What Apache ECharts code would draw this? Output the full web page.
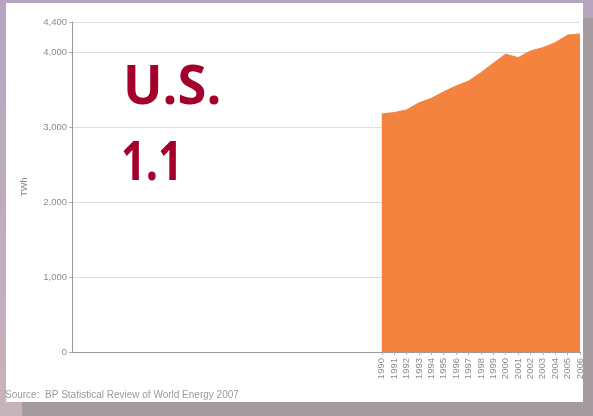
<!DOCTYPE html>
<html>
<head>
<meta charset="utf-8">
<script src="https://cdn.jsdelivr.net/npm/echarts@6/dist/echarts.min.js"></script>
<style>
  html, body { margin: 0; padding: 0; }
  #chart { width: 593px; height: 416px; }
</style>
</head>
<body>
<div id="chart"></div>
<script>
// Category axis: one slot per year, 1965 to 2006; only the 1990+ slots are labelled
const years = Array.from({ length: 42 }, (_, i) => String(1965 + i));
const labelFrom = '1990';

// U.S. electricity generation, TWh, 1990-2006
const genYears = ['1990','1991','1992','1993','1994','1995','1996','1997','1998',
                  '1999','2000','2001','2002','2003','2004','2005','2006'];
const generation = [3175, 3192, 3228, 3322, 3382, 3470, 3548, 3612, 3724,
                    3850, 3972, 3925, 4013, 4058, 4125, 4226, 4240];

// Y-axis ticks
const yMax = 4400;
const yStep = 1000;

const title1 = 'U.S.';
const title2 = '1.1';
const unitLabel = 'TWh';
const sourceNote = 'Source:  BP Statistical Review of World Energy 2007';

const seriesData = years.map(y => {
  const k = genYears.indexOf(y);
  return k < 0 ? null : generation[k];
});
const firstLabelled = years.indexOf(labelFrom);
const showTick = idx => idx >= firstLabelled;

const titleFont = 'bold 54px "Open Sans", sans-serif';
const titleColor = '#a3002b';

const chart = echarts.init(document.getElementById('chart'), null, { renderer: 'canvas' });

chart.setOption({
  animation: false,
  backgroundColor: {
    type: 'linear', x: 0, y: 0, x2: 0, y2: 1,
    colorStops: [
      { offset: 0, color: '#b6a5c0' },
      { offset: 1, color: '#c7b3bb' }
    ]
  },
  graphic: [
    // drop shadow behind the white card
    { type: 'rect', z: -10, shape: { x: 22, y: 18, width: 580, height: 410 },
      style: { fill: '#a39b9f' } },
    // white card
    { type: 'rect', z: -9, shape: { x: 6, y: 3, width: 577, height: 399 },
      style: { fill: '#ffffff' } },
    { type: 'text', z: 10, x: 123, y: 89, scaleX: 0.97, style: {
        text: title1, x: 0, y: 0, verticalAlign: 'middle',
        font: titleFont, fill: titleColor } },
    { type: 'text', z: 10, x: 121, y: 165, scaleX: 0.8, style: {
        text: title2, x: 0, y: 0, verticalAlign: 'middle',
        font: titleFont, fill: titleColor } },
    { type: 'text', z: 10, rotation: Math.PI / 2, x: 25, y: 187, style: {
        text: unitLabel, align: 'center', verticalAlign: 'middle',
        font: '9px "Liberation Sans", sans-serif', fill: '#8a8a8a' } },
    { type: 'text', z: 10, style: {
        text: sourceNote, x: 5, y: 395, verticalAlign: 'middle',
        font: '10px "Liberation Sans", sans-serif', fill: '#9a9a9a' } }
  ],
  grid: { left: 72, right: 13, top: 22, bottom: 64, containLabel: false },
  xAxis: {
    type: 'category',
    data: years,
    boundaryGap: false,
    axisLine: { show: true, lineStyle: { color: '#9a9a9a', width: 1 } },
    axisTick: { show: true, interval: showTick, length: 3, lineStyle: { color: '#b0b0b0' } },
    axisLabel: {
      interval: showTick,
      rotate: 90,
      fontSize: 9.5,
      color: '#8c8c8c',
      fontFamily: 'Liberation Sans',
      margin: 6
    },
    splitLine: { show: false }
  },
  yAxis: {
    type: 'value',
    min: 0,
    max: yMax,
    interval: yStep,
    axisLine: { show: true, lineStyle: { color: '#9a9a9a', width: 1 } },
    axisTick: { show: true, length: 3, lineStyle: { color: '#b0b0b0' } },
    axisLabel: {
      fontSize: 9.5,
      color: '#8c8c8c',
      fontFamily: 'Liberation Sans',
      margin: 5,
      formatter: v => v.toString().replace(/\B(?=(\d{3})+(?!\d))/g, ',')
    },
    splitLine: { show: true, lineStyle: { color: '#dedede', width: 1 } }
  },
  series: [{
    type: 'line',
    data: seriesData,
    connectNulls: false,
    showSymbol: false,
    symbol: 'none',
    lineStyle: { color: '#f4833f', width: 1 },
    areaStyle: { color: '#f4833f', opacity: 1 },
    z: 3
  }]
});
</script>
</body>
</html>
